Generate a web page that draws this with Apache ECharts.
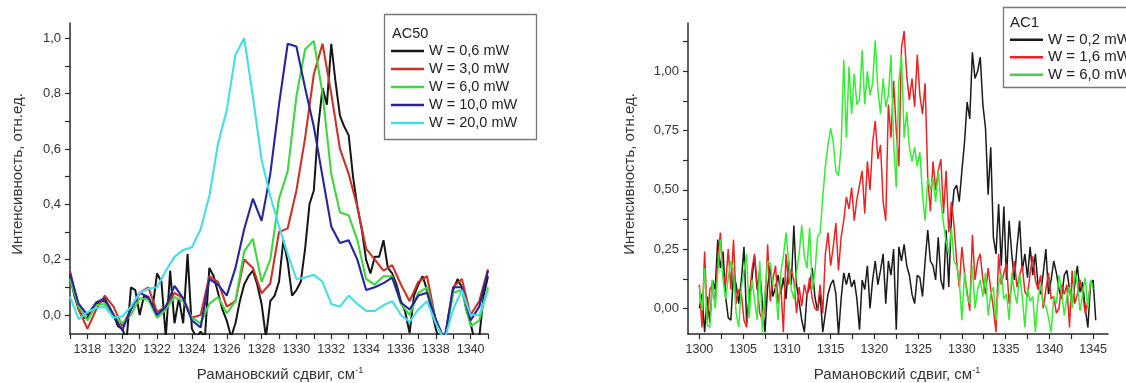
<!DOCTYPE html>
<html><head><meta charset="utf-8">
<script src="https://cdn.jsdelivr.net/npm/echarts@6/dist/echarts.min.js"></script>
<style>html,body{margin:0;padding:0;background:#fff}#c{width:1126px;height:383px}</style>
</head><body><div id="c"></div>
<script>
// ---------- LEFT PANEL (AC50) ----------
const L_X = [1317,1317.5,1318,1318.5,1319,1319.5,1320,1320.5,1321,1321.5,1322,1322.5,1323,1323.5,1324,1324.5,1325,1325.5,1326,1326.5,1327,1327.5,1328,1328.5,1329,1329.5,1330,1330.5,1331,1331.5,1332,1332.5,1333,1333.5,1334,1334.5,1335,1335.5,1336,1336.5,1337,1337.5,1338,1338.5,1339,1339.5,1340,1340.5,1341];
const L_X_FINE = [1317,1317.25,1317.5,1317.75,1318,1318.25,1318.5,1318.75,1319,1319.25,1319.5,1319.75,1320,1320.25,1320.5,1320.75,1321,1321.25,1321.5,1321.75,1322,1322.25,1322.5,1322.75,1323,1323.25,1323.5,1323.75,1324,1324.25,1324.5,1324.75,1325,1325.25,1325.5,1325.75,1326,1326.25,1326.5,1326.75,1327,1327.25,1327.5,1327.75,1328,1328.25,1328.5,1328.75,1329,1329.25,1329.5,1329.75,1330,1330.25,1330.5,1330.75,1331,1331.25,1331.5,1331.75,1332,1332.25,1332.5,1332.75,1333,1333.25,1333.5,1333.75,1334,1334.25,1334.5,1334.75,1335,1335.25,1335.5,1335.75,1336,1336.25,1336.5,1336.75,1337,1337.25,1337.5,1337.75,1338,1338.25,1338.5,1338.75,1339,1339.25,1339.5,1339.75,1340,1340.25,1340.5,1340.75,1341];
const L_W06 = [0.14,0.07,0.02,-0.01,-0.01,0.02,0.04,0.05,0.05,0.03,0.0,-0.04,-0.05,-0.09,0.1,0.09,0.0,0.07,0.06,0.03,0.15,0.12,-0.08,0.16,-0.03,0.06,-0.03,0.22,-0.05,-0.08,-0.06,-0.08,0.17,0.14,0.08,0.02,-0.02,-0.08,-0.03,0.05,0.11,0.14,0.16,0.11,0.04,-0.08,0.05,0.07,0.12,0.27,0.19,0.07,0.09,0.12,0.24,0.4,0.45,0.68,0.82,0.76,0.98,0.84,0.72,0.68,0.65,0.5,0.39,0.31,0.2,0.15,0.21,0.21,0.27,0.17,0.15,0.11,0.05,0.01,-0.065,0.07,0.11,0.14,0.09,0.02,-0.05,-0.1,-0.1,0.0,0.09,0.13,0.1,0.02,-0.03,-0.1,-0.08,0.07,0.14];
const L_W30 = [0.16,0.02,-0.05,0.02,0.07,0.03,-0.04,0.02,0.08,0.1,0.01,0.03,0.08,0.06,-0.01,0.0,0.14,0.12,0.03,0.05,0.2,0.17,0.078,0.114,0.3,0.313,0.45,0.64,0.87,0.98,0.8,0.6,0.51,0.39,0.24,0.2,0.16,0.18,0.11,0.05,0.12,0.14,-0.02,-0.09,0.1,0.13,0.0,0.05,0.165];
const L_W60 = [0.13,0.03,-0.02,0.035,0.04,0.0,-0.03,0.0,0.06,0.055,-0.01,0.02,0.065,0.05,-0.01,-0.03,0.04,0.065,0.006,0.05,0.23,0.275,0.12,0.2,0.42,0.52,0.79,0.96,0.99,0.8,0.51,0.37,0.36,0.27,0.13,0.11,0.14,0.14,0.04,0.0,0.08,0.1,-0.02,-0.1,0.08,0.09,-0.04,-0.02,0.1];
const L_W100 = [0.15,0.04,0.0,0.045,0.06,0.0,-0.055,0.02,0.08,0.065,0.0,0.03,0.105,0.06,-0.02,-0.045,0.13,0.11,0.07,0.17,0.31,0.42,0.34,0.51,0.76,0.98,0.97,0.82,0.68,0.5,0.32,0.26,0.27,0.2,0.09,0.1,0.115,0.135,0.045,0.02,0.07,0.08,-0.015,-0.09,0.1,0.1,-0.02,0.03,0.16];
const L_W200 = [0.066,-0.015,0.01,0.025,0.03,-0.01,-0.005,0.03,0.08,0.095,0.1,0.16,0.21,0.235,0.245,0.31,0.43,0.62,0.74,0.94,1.0,0.79,0.56,0.43,0.32,0.22,0.13,0.135,0.145,0.12,0.04,0.03,0.07,0.04,0.015,0.015,0.035,0.05,0.0,-0.025,0.02,0.05,-0.03,-0.09,0.02,0.09,0.0,0.0,0.09];
const L_NAMES = ['W = 0,6 mW','W = 3,0 mW','W = 6,0 mW','W = 10,0 mW','W = 20,0 mW'];
const L_XTICKS = [1317,1318,1319,1320,1321,1322,1323,1324,1325,1326,1327,1328,1329,1330,1331,1332,1333,1334,1335,1336,1337,1338,1339,1340,1341];
const L_XLABELS = [1318,1320,1322,1324,1326,1328,1330,1332,1334,1336,1338,1340];
const L_YTICKS = [0,0.1,0.2,0.3,0.4,0.5,0.6,0.7,0.8,0.9,1.0];
const L_YLABELS = [0,0.2,0.4,0.6,0.8,1.0];

// ---------- RIGHT PANEL (AC1) ----------
const R_X = [
1300,1300.3,1300.6,1300.9,1301.2,1301.5,1301.8,1302.1,1302.4,1302.7,
1303,1303.3,1303.6,1303.9,1304.2,1304.5,1304.8,1305.1,1305.4,1305.7,
1306,1306.3,1306.6,1306.9,1307.2,1307.5,1307.8,1308.1,1308.4,1308.7,
1309,1309.3,1309.6,1309.9,1310.2,1310.5,1310.8,1311.1,1311.4,1311.7,
1312,1312.3,1312.6,1312.9,1313.2,1313.5,1313.8,1314.1,1314.4,1314.7,
1315,1315.3,1315.6,1315.9,1316.2,1316.5,1316.8,1317.1,1317.4,1317.7,
1318,1318.3,1318.6,1318.9,1319.2,1319.5,1319.8,1320.1,1320.4,1320.7,
1321,1321.3,1321.6,1321.9,1322.2,1322.5,1322.8,1323.1,1323.4,1323.7,
1324,1324.3,1324.6,1324.9,1325.2,1325.5,1325.8,1326.1,1326.4,1326.7,
1327,1327.3,1327.6,1327.9,1328.2,1328.5,1328.8,1329.1,1329.4,1329.7,
1330,1330.3,1330.6,1330.9,1331.2,1331.5,1331.8,1332.1,1332.4,1332.7,
1333,1333.3,1333.6,1333.9,1334.2,1334.5,1334.8,1335.1,1335.4,1335.7,
1336,1336.3,1336.6,1336.9,1337.2,1337.5,1337.8,1338.1,1338.4,1338.7,
1339,1339.3,1339.6,1339.9,1340.2,1340.5,1340.8,1341.1,1341.4,1341.7,
1342,1342.3,1342.6,1342.9,1343.2,1343.5,1343.8,1344.1,1344.4,1344.7,
1345,1345.3];
const R_W02 = [
0.00,0.06,-0.10,0.05,-0.06,0.12,0.08,0.29,0.17,0.24,
0.05,-0.04,-0.05,0.15,0.10,0.02,0.12,0.26,-0.06,0.05,
0.12,0.22,0.08,0.16,0.02,-0.10,0.09,0.18,0.05,0.09,
0.14,0.06,0.13,0.04,0.20,0.10,0.35,0.10,0.03,-0.05,
-0.10,0.06,0.09,0.17,0.05,-0.01,0.06,-0.10,-0.02,0.06,
0.10,0.12,0.06,-0.11,0.04,0.15,0.10,0.15,0.09,0.12,
0.04,-0.09,0.12,0.08,0.18,0.00,0.12,0.20,0.10,0.16,
0.23,0.02,0.20,0.14,0.25,-0.09,0.26,0.20,0.27,0.18,
0.14,0.06,0.02,0.14,0.13,0.05,0.20,0.33,0.20,0.18,
0.12,0.30,0.12,0.08,0.33,0.09,0.38,0.50,0.52,0.45,
0.58,0.70,0.87,0.80,1.08,0.97,1.00,1.06,0.86,0.76,
0.48,0.68,0.30,0.23,0.44,0.18,0.43,0.12,0.37,0.23,
0.12,0.26,0.37,0.16,0.23,0.13,0.26,0.14,0.23,0.10,
0.06,0.15,0.25,0.06,0.12,0.20,0.15,0.08,0.04,0.14,
0.16,0.08,0.01,0.10,0.18,0.07,0.11,0.00,-0.08,0.10,
0.12,-0.05];
const R_W16 = [
0.10,-0.08,0.24,-0.05,0.08,0.10,0.02,0.20,0.32,0.15,
0.10,0.25,0.08,0.29,0.02,0.08,0.06,-0.05,-0.08,0.05,
0.16,0.23,0.10,-0.02,-0.05,0.00,0.27,0.03,0.12,0.18,
0.02,0.10,-0.10,0.23,0.10,0.16,0.12,-0.02,0.09,0.01,
0.10,0.05,0.13,0.04,0.00,-0.01,0.10,-0.02,0.23,0.32,
0.18,0.26,0.36,0.16,0.30,0.37,0.47,0.42,0.51,0.37,
0.46,0.52,0.58,0.40,0.62,0.50,0.70,0.79,0.63,0.69,
0.45,0.37,0.86,0.72,0.96,0.75,0.60,1.10,1.17,0.98,
0.88,0.97,0.85,1.07,0.90,0.82,0.95,0.55,0.41,0.62,
0.50,0.58,0.63,0.40,0.58,0.32,0.45,0.35,0.20,0.09,
0.26,0.15,0.07,-0.01,0.31,0.12,0.20,0.23,0.12,0.06,
0.17,0.08,0.00,-0.10,0.23,0.10,0.15,0.19,0.02,0.10,
0.20,0.09,0.14,0.18,0.07,0.05,0.15,0.22,0.12,0.08,
0.14,0.00,0.08,0.15,0.04,0.05,-0.02,0.00,0.10,0.06,
0.10,-0.08,0.16,0.02,0.06,0.12,0.06,-0.02,0.03,0.10,
null,null];
const R_W60 = [
0.09,-0.01,0.17,-0.07,-0.08,0.12,0.00,0.15,0.29,0.12,
0.04,0.13,0.20,0.16,-0.02,-0.08,0.09,0.16,0.23,-0.04,
0.12,0.04,-0.05,0.20,-0.10,0.07,0.20,0.19,0.10,0.09,
-0.05,0.15,0.22,0.32,0.20,0.08,0.04,0.15,0.23,0.35,
0.22,0.17,0.34,0.08,0.15,0.30,0.32,0.47,0.60,0.69,
0.76,0.70,0.58,0.56,0.68,1.05,0.72,1.02,0.82,0.99,
0.86,0.88,1.09,0.86,1.00,0.90,0.95,1.13,0.92,0.82,
0.97,0.85,0.90,1.07,0.70,0.51,0.96,1.07,0.72,0.83,
0.68,0.62,0.68,0.60,0.66,0.48,0.37,0.55,0.50,0.55,
0.45,0.58,0.45,0.36,0.28,0.23,0.34,0.20,0.18,0.12,
-0.05,0.15,0.05,0.02,0.18,0.00,0.08,0.12,0.05,0.15,
-0.03,0.06,0.09,-0.05,0.10,0.15,0.04,0.06,-0.05,0.15,
0.07,0.02,0.15,0.05,-0.08,0.09,0.03,0.05,-0.10,0.04,
0.10,0.02,0.01,-0.04,-0.10,0.05,0.02,0.14,0.07,-0.03,
0.05,0.09,0.00,0.16,0.10,-0.01,0.06,0.13,0.00,0.12,
0.08,null];
const R_NAMES = ['W = 0,2 mW','W = 1,6 mW','W = 6,0 mW'];
const R_XTICKS = [1300,1302.5,1305,1307.5,1310,1312.5,1315,1317.5,1320,1322.5,1325,1327.5,1330,1332.5,1335,1337.5,1340,1342.5,1345];
const R_XLABELS = [1300,1305,1310,1315,1320,1325,1330,1335,1340,1345];
const R_YTICKS = [0,0.125,0.25,0.375,0.5,0.625,0.75,0.875,1.0,1.125];
const R_YLABELS = [0,0.25,0.5,0.75,1.0];

const Y_TITLE = 'Интенсивность, отн.ед.';
const X_TITLE = 'Рамановский сдвиг, см';

const FONT = '"Liberation Sans", Arial, sans-serif';
const AX = '#2a2a2a';

function pairs(xs, ys){ const out=[]; for(let i=0;i<xs.length;i++){ if(ys[i]!==null && ys[i]!==undefined) out.push([xs[i], ys[i]]); } return out; }

function xAxisCfg(grid, min, max, ticks, labels){
  return {type:'value', gridIndex:grid, min:min, max:max,
    axisLine:{show:true, onZero:false, lineStyle:{color:AX, width:1.5}},
    axisTick:{show:true, inside:false, length:5, customValues:ticks, lineStyle:{color:AX, width:1.2}},
    axisLabel:{show:true, customValues:labels, margin:9, fontSize:12.5, color:'#333', fontFamily:FONT, formatter:v=>String(v)},
    splitLine:{show:false}};
}
function yAxisCfg(grid, min, max, ticks, labels, dec){
  return {type:'value', gridIndex:grid, min:min, max:max,
    axisLine:{show:true, onZero:false, lineStyle:{color:AX, width:1.5}},
    axisTick:{show:true, inside:false, length:5, customValues:ticks, lineStyle:{color:AX, width:1.2}},
    axisLabel:{show:true, customValues:labels, margin:9, fontSize:13, color:'#333', fontFamily:FONT,
      formatter:v=>Number(v).toFixed(dec).replace('.',',')},
    splitLine:{show:false}};
}
function line(name, xi, xs, ys, color, w){
  return {name:name, type:'line', xAxisIndex:xi, yAxisIndex:xi, data:pairs(xs,ys),
    showSymbol:false, symbol:'none', clip:true, lineStyle:{color:color, width:w}, itemStyle:{color:color},
    emphasis:{disabled:true}, animation:false};
}

const L_COLORS = ['#151515','#cc3328','#3fd63f','#26269c','#45dde6'];
const R_COLORS = ['#1a1a1a','#ee2222','#33ee33'];

const chart = echarts.init(document.getElementById('c'), null, {renderer:'canvas'});
chart.setOption({
  backgroundColor:'#fff',
  animation:false,
  grid:[
    {left:70, top:23, width:418, height:311},
    {left:688, top:23, width:420, height:311}
  ],
  xAxis:[ xAxisCfg(0,1317,1341,L_XTICKS,L_XLABELS), xAxisCfg(1,1298.7,1346.7,R_XTICKS,R_XLABELS) ],
  yAxis:[ yAxisCfg(0,-0.0687,1.055,L_YTICKS,L_YLABELS,1), yAxisCfg(1,-0.108,1.204,R_YTICKS,R_YLABELS,2) ],
  legend:[
    {data:L_NAMES, orient:'vertical', left:391, top:42, padding:0, itemGap:0, itemWidth:33, itemHeight:2.5, icon:'rect',
     selectedMode:false, textStyle:{fontSize:14.5, lineHeight:18, color:'#222', fontFamily:FONT}},
    {data:R_NAMES, orient:'vertical', left:1010, top:31, padding:0, itemGap:0, itemWidth:33, itemHeight:2.5, icon:'rect',
     selectedMode:false, textStyle:{fontSize:15, lineHeight:17.5, color:'#222', fontFamily:FONT}}
  ],
  graphic:[
    {type:'rect', z:3, shape:{x:384.5, y:14.5, width:152, height:125}, style:{fill:'#fff', stroke:'#777', lineWidth:1.3}},
    {type:'text', z:5, x:392, y:34, style:{text:'AC50', fontSize:14.5, fontFamily:FONT, fill:'#222', align:'left', verticalAlign:'middle'}},
    {type:'rect', z:3, shape:{x:1003.5, y:7.5, width:140, height:80}, style:{fill:'#fff', stroke:'#777', lineWidth:1.3}},
    {type:'text', z:5, x:1010, y:23, style:{text:'AC1', fontSize:15, fontFamily:FONT, fill:'#222', align:'left', verticalAlign:'middle'}},
    {type:'text', z:5, x:18, y:174, rotation:Math.PI/2, style:{text:Y_TITLE, fontSize:15, fontFamily:FONT, fill:'#333', align:'center', verticalAlign:'middle'}},
    {type:'text', z:5, x:630, y:174, rotation:Math.PI/2, style:{text:Y_TITLE, fontSize:15, fontFamily:FONT, fill:'#333', align:'center', verticalAlign:'middle'}},
    {type:'text', z:5, x:280, y:375, style:{text:'{a|'+X_TITLE+'}{s|-1}', align:'center', verticalAlign:'middle',
      rich:{a:{fontSize:15, fontFamily:FONT, fill:'#333', lineHeight:18}, s:{fontSize:9, fontFamily:FONT, fill:'#333', verticalAlign:'top', lineHeight:9}}}},
    {type:'text', z:5, x:897, y:375, style:{text:'{a|'+X_TITLE+'}{s|-1}', align:'center', verticalAlign:'middle',
      rich:{a:{fontSize:15, fontFamily:FONT, fill:'#333', lineHeight:18}, s:{fontSize:9, fontFamily:FONT, fill:'#333', verticalAlign:'top', lineHeight:9}}}}
  ],
  series:[
    line(L_NAMES[0],0,L_X_FINE,L_W06,L_COLORS[0],2),
    line(L_NAMES[1],0,L_X,L_W30,L_COLORS[1],2.1),
    line(L_NAMES[2],0,L_X,L_W60,L_COLORS[2],2.1),
    line(L_NAMES[3],0,L_X,L_W100,L_COLORS[3],2.1),
    line(L_NAMES[4],0,L_X,L_W200,L_COLORS[4],2.1),
    line(R_NAMES[0],1,R_X,R_W02,R_COLORS[0],1.5),
    line(R_NAMES[1],1,R_X,R_W16,R_COLORS[1],1.5),
    line(R_NAMES[2],1,R_X,R_W60,R_COLORS[2],1.5)
  ]
});
</script>
</body></html>
